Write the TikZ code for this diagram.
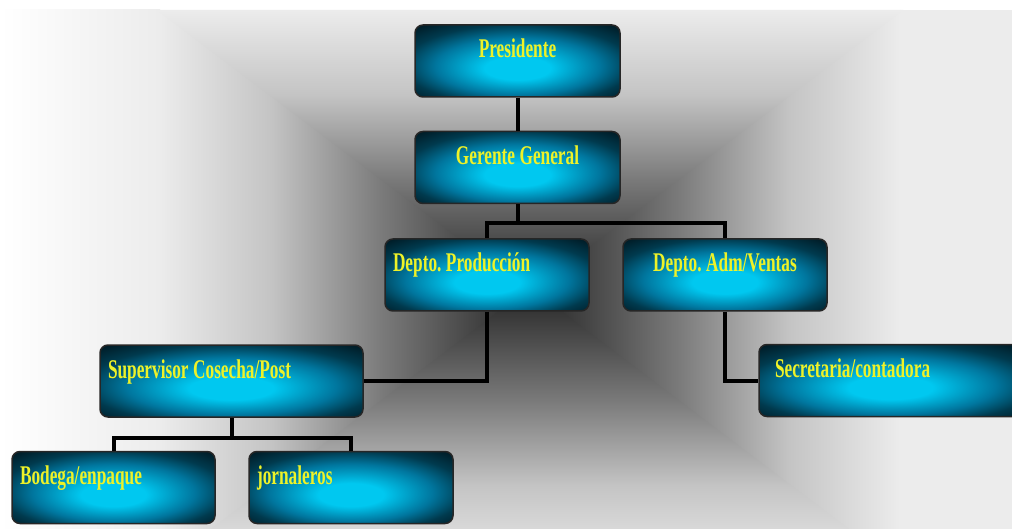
\documentclass[tikz,border=0pt]{standalone}
\usepackage{fontspec}
\newfontfamily\postfont{Liberation Serif}[FakeStretch=0.64]
\DeclareRobustCommand\poststyle{\postfont\bfseries\fontsize{27}{30}\selectfont}
\DeclareRobustCommand\postgap{\frenchspacing\spaceskip=4.5pt\relax\xspaceskip=4.5pt\relax}
\definecolor{cyanhi}{RGB}{0,200,240}
\definecolor{cyanmid}{RGB}{0,118,158}
\definecolor{tealdark}{RGB}{0,58,78}
\definecolor{boxdark}{RGB}{0,26,36}
\definecolor{postyellow}{RGB}{238,242,40}
\definecolor{bgedge}{RGB}{236,236,236}
\definecolor{bgmidA}{RGB}{196,196,196}
\definecolor{bgmidB}{RGB}{122,122,122}
\definecolor{bgdark}{RGB}{36,36,36}
\pgfdeclareradialshading{boxglow}{\pgfpoint{0bp}{-6bp}}{color(0bp)=(cyanhi); color(8bp)=(cyanhi); color(20bp)=(cyanmid); color(28bp)=(tealdark); color(36bp)=(boxdark); color(50bp)=(boxdark)}
\pgfdeclareverticalshading{bgramp}{100bp}{color(0bp)=(bgdark); color(25bp)=(bgdark); color(45bp)=(bgmidB); color(60bp)=(bgmidA); color(75bp)=(bgedge); color(100bp)=(bgedge)}
\tikzset{
  postbox/.style={draw=black!85, line width=1.5pt, rounded corners=8pt, shade, shading=boxglow,
    inner xsep=8pt, inner ysep=0pt, text height=33pt, text depth=39pt,
    text=postyellow, font=\poststyle},
  link/.style={line width=4pt, black}
}
\begin{document}
\begin{tikzpicture}[x=1pt,y=-1pt]
\useasboundingbox (0,0) rectangle (1012,529);
\clip (0,0) rectangle (1012,529);
% background
\fill[white] (0,0) rectangle (1012,529);
\fill[bgedge] (0,10) rectangle (1012,529);
\shade[left color=white, right color=bgedge] (0,10) rectangle (160,529);
\shade[shading=bgramp, shading angle=90] (160,10) -- (160,570) -- (530,290) -- cycle;
\shade[shading=bgramp, shading angle=-90] (900,10) -- (900,570) -- (530,290) -- cycle;
\shade[shading=bgramp] (157,10) -- (903,10) -- (530,292) -- cycle;
\shade[shading=bgramp, shading angle=180] (157,570) -- (903,570) -- (530,288) -- cycle;
% boxes
\def\post#1#2#3#4#5#6{
\node[postbox, text width=#4, align=#5] (#1) at (#2,#3) {\postgap #6};
}
\post{pres}{517.5}{61}{189pt}{center}{Presidente}
\post{ger}{517.5}{167.5}{189pt}{center}{Gerente General}
\post{dprod}{487}{275}{188pt}{left}{Depto. Producción}
\post{dadm}{725}{275}{188pt}{center}{Depto. Adm/Ventas}
\post{sup}{231.5}{381}{247pt}{left}{Supervisor Cosecha/Post}
\post{secr}{890.5}{380.5}{247pt}{left}{\hspace*{8pt}Secretaria/contadora}
\post{bod}{113.5}{487.5}{187pt}{left}{Bodega/enpaque}
\post{jorn}{351}{487.5}{188pt}{left}{jornaleros}
% lines
\draw[link] (pres.south) -- (ger.north);
\draw[link] (ger.south) -- ++(0,19) coordinate (split);
\draw[link] (split) -| (dprod.north);
\draw[link] (split) -| (dadm.north);
\draw[link] (dprod.south) |- (sup.east);
\draw[link] (dadm.south) |- (secr.west);
\draw[link] (sup.south) -- ++(0,20) coordinate (fork);
\draw[link] (fork) -| (bod.north);
\draw[link] (fork) -| (jorn.north);
\end{tikzpicture}
\end{document}
